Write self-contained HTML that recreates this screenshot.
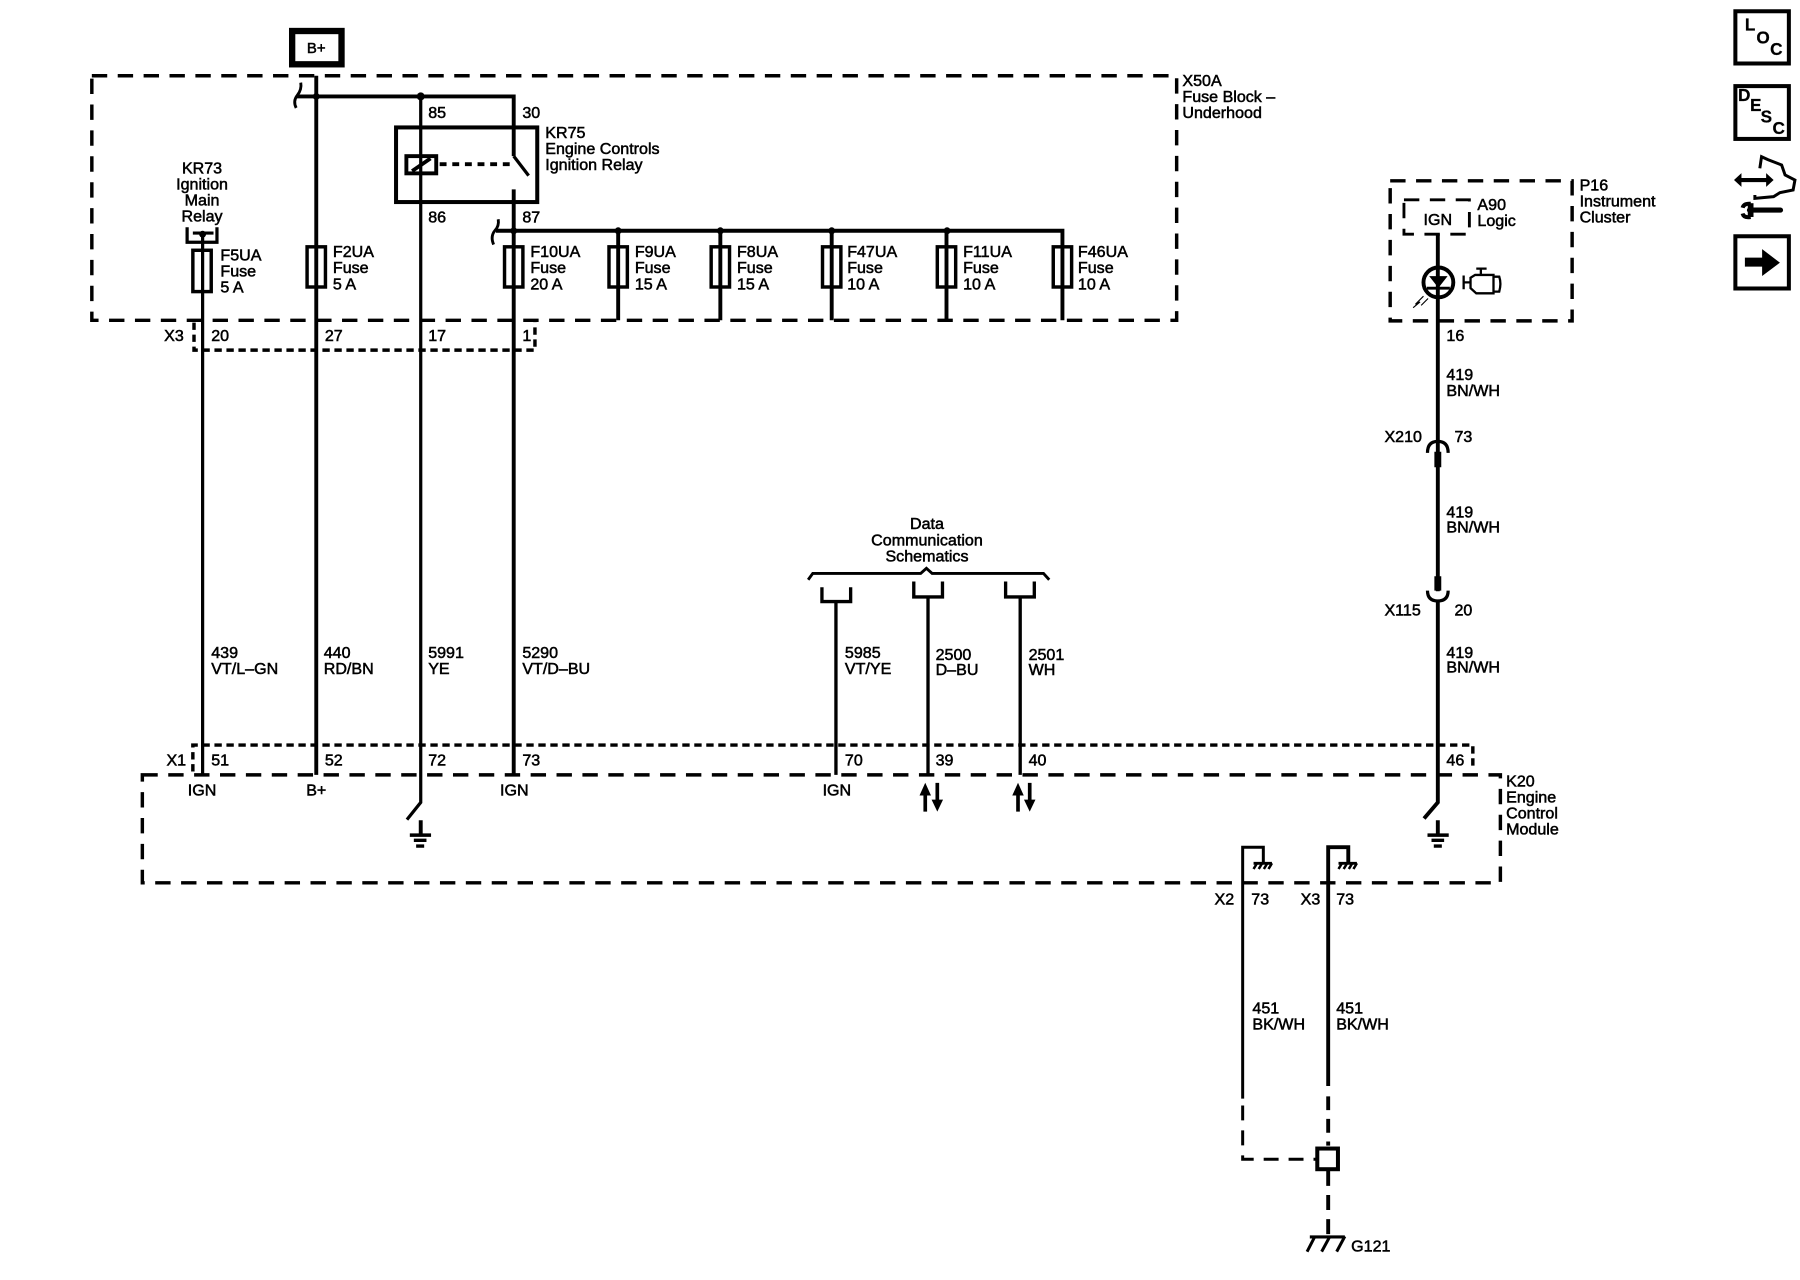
<!DOCTYPE html>
<html><head><meta charset="utf-8"><title>Engine Controls Ignition Relay Schematic</title>
<style>
html,body{margin:0;padding:0;background:#fff}
svg{display:block}
text{font-family:"Liberation Sans",sans-serif;font-size:14px;fill:#000;stroke:#000;stroke-width:.45}
.m{text-anchor:middle}
.b{font-weight:bold;font-size:15px;stroke-width:.2}
</style></head><body>
<svg width="1800" height="1280" viewBox="0 0 1568 1115" xmlns="http://www.w3.org/2000/svg">
<rect width="1568" height="1115" fill="#fff"/>
<g fill="none" stroke="#000" stroke-width="3.400">
<!-- dashed boxes -->
<g stroke-dasharray="13.400 9.150" stroke-width="3">
<rect x="80" y="66" width="945" height="213"/>
<rect x="124" y="675" width="1183" height="94"/>
<rect x="1211" y="157.500" width="158.500" height="122"/>
</g>
<rect x="1223" y="174" width="57" height="30" stroke-dasharray="13.400 9.150" stroke-width="2.500"/>
<path d="M169 281V305H466V281" stroke-dasharray="6.400 4.050" stroke-width="3"/>
<path d="M168 672V649H1283V670" stroke-dasharray="6.400 4.050" stroke-width="3"/>
<!-- B+ -->
<rect x="254.500" y="27" width="43" height="29" stroke-width="5.500"/>
<!-- wires -->
<path d="M275.500 66V675"/>
<path d="M258 84H447.500V136"/>
<path d="M366.500 84V699L354.500 714" stroke-width="2.800"/>
<path d="M447.500 136L460.500 153" stroke-width="2.800"/>
<path d="M447.500 165V675"/>
<path d="M432 201H925.500V279"/>
<path d="M538.500 201V279M627.500 201V279M724.500 201V279M824.500 201V279"/>
<path d="M176.500 204V675" stroke-width="2.800"/>
<path d="M262 72Q263 78 259 83Q255 88 258 94" stroke-width="2.500"/>
<path d="M434 191Q435 197 431 201Q427 206 430 213" stroke-width="2.500"/>
<!-- relay -->
<rect x="345" y="111" width="123" height="65" stroke-width="3.500"/>
<rect x="354" y="136" width="26" height="15"/>
<path d="M359 149L375 138"/>
<path d="M383 143H447" stroke-dasharray="6 5"/>
<!-- KR73 bracket -->
<path d="M163 198V211H189V198M168 203H186" stroke-width="2.800"/>
<!-- fuses -->
<g stroke-width="3">
<rect x="168" y="218" width="16" height="36"/>
<rect x="267.500" y="215" width="16" height="35"/>
<rect x="439.500" y="215" width="16" height="35"/>
<rect x="530.500" y="215" width="16" height="35"/>
<rect x="619.500" y="215" width="16" height="35"/>
<rect x="716.500" y="215" width="16" height="35"/>
<rect x="816.500" y="215" width="16" height="35"/>
<rect x="917.500" y="215" width="16" height="35"/>
</g>
<!-- data comm -->
<path d="M704 505L708 499.500H802L807 495L812 499.500H909L914 505" stroke-width="2.500"/>
<g stroke-width="2.900">
<path d="M716 511.500V524H741V511.500M728.200 524V675"/>
<path d="M796 506.500V520H821V506.500M808.400 520V675"/>
<path d="M876 506.500V520H901V506.500M888.700 520V675"/>
</g>
<!-- right wire -->
<path d="M1252.500 204V395"/>
<path d="M1252.500 395V515"/>
<path d="M1252.500 523V699L1240.500 713"/>
<path d="M1243.500 394.500Q1243.500 384.500 1252.500 384.500Q1261.500 384.500 1261.500 394.500" stroke-width="2.800"/>
<path d="M1243.500 514.500Q1243.500 523.500 1252.500 523.500Q1261.500 523.500 1261.500 514.500" stroke-width="2.800"/>
<path d="M1252.500 393.500V407M1252.500 502V514.500" stroke-width="6"/>
<circle cx="1253" cy="246" r="13"/>
<path d="M1243 251H1263" stroke-width="2.500"/>
<path d="M1246 241H1260L1253 250Z" fill="#000" stroke-width="1"/>
<path d="M1240 258L1233 265L1237 263L1231 268M1244 260L1238 266" stroke-width="1"/>
<!-- engine icon -->
<path d="M1275 240V252M1275 246H1281V242L1285 239.500H1301V255.500H1286L1281 251V246M1301 241H1306Q1308 247 1306 254H1301M1286 234H1295M1290 234V239.500" stroke-width="2"/>
<!-- grounds -->
<path d="M366.500 714.500V727M1252.500 714.500V727"/>
<g stroke-width="3">
<path d="M357 727.500H375.500M1243.500 727.500H1262"/>
<path d="M360.500 732H371.500M1247 732H1258M362.500 737H369.500M1249 737H1256"/>
</g>
<!-- module grounds -->
<path d="M1082.500 957V738H1100.500V751" stroke-width="2.600"/>
<path d="M1157 946V738H1174.500V751"/>
<path d="M1092 752H1108M1166 752H1182" stroke-width="2.500"/>
<path d="M1095 752L1092 757M1099.500 752L1096.500 757M1104 752L1101 757M1108 752L1105 757M1169 752L1166 757M1173.500 752L1170.500 757M1178 752L1175 757M1182 752L1179 757" stroke-width="2.200"/>
<!-- ground splice -->
<path d="M1082.500 963V1009.800H1146" stroke-dasharray="13 8.700" stroke-width="2.600"/>
<path d="M1157 955V998" stroke-dasharray="12 7.700"/>
<path d="M1157 1020V1077" stroke-dasharray="13 8"/>
<rect x="1147.500" y="1000.500" width="18" height="18" stroke-width="3.500"/>
<path d="M1141 1077.500H1171.500" stroke-width="2.800"/>
<path d="M1145.500 1077L1138.600 1090.300M1158.500 1077L1151.300 1090.300M1171.500 1077L1164.400 1090.300" stroke-width="2.600"/>
<!-- data arrows -->
<path d="M806 707V690M816.500 682V699M886.800 707V690M897 682V699" stroke-width="3.200"/>
<!-- side icon boxes -->
<rect x="1511.700" y="9.800" width="46.600" height="45.500" stroke-width="3.500"/>
<rect x="1511.700" y="75" width="46.600" height="46" stroke-width="3.500"/>
<rect x="1511.700" y="205.800" width="46.600" height="45.500" stroke-width="3.500"/>
<!-- tools icon -->
<path d="M1533 146.600L1534.500 136.500L1540 139L1552 143.700L1555 152.400L1563.600 156.800L1562 165.500L1550.500 167.800L1545 171.300L1528.700 172.800V169.900" stroke-width="2.600"/>
<path d="M1515 156.800H1541" stroke-width="3.600"/>
<path d="M1524 183H1551" stroke-width="4.500" stroke-linecap="round"/>
<path d="M1525 177.500Q1519 177 1518 181M1518 186Q1519 190 1525 189" stroke-width="3.500"/>
<path d="M1525 177V189" stroke-width="5"/>
</g>
<!-- arrows / dots -->
<g fill="#000">
<circle cx="275.500" cy="84" r="3"/><circle cx="366.500" cy="84" r="3.500"/>
<circle cx="447.500" cy="201" r="3"/><circle cx="538.500" cy="201" r="3"/><circle cx="627.500" cy="201" r="3"/><circle cx="724.500" cy="201" r="3"/><circle cx="825" cy="201" r="3"/>
<circle cx="176.500" cy="204" r="3"/>
<path d="M801 693L806 681.800L811 693ZM811.500 696.500L816.500 707L821.500 696.500ZM881.800 693L886.800 681.800L891.800 693ZM892 696.500L897 707L902 696.500Z"/>
<path d="M1510.500 156.800L1517 150.800V162.800ZM1545 156.800L1538.500 150.800V162.800Z"/>
<path d="M1520 224.400H1535V217L1550.500 228.800L1535 240.400V232.300H1520Z"/>
</g>
<text class="b" x="1520" y="26.700">L</text><text class="b" x="1530" y="37.700">O</text><text class="b" x="1542" y="48">C</text>
<text class="b" x="1514" y="88">D</text><text class="b" x="1524.400" y="96.700">E</text><text class="b" x="1533.700" y="106.900">S</text><text class="b" x="1544" y="116.700">C</text>
<g transform="translate(0,10)">
<text class="m" x="275.500" y="36" style="font-size:13px">B+</text>
<text class="m" x="176" y="141">KR73</text>
<text class="m" x="176" y="155">Ignition</text>
<text class="m" x="176" y="169">Main</text>
<text class="m" x="176" y="183">Relay</text>
<text x="192" y="217">F5UA</text><text x="192" y="231">Fuse</text><text x="192" y="245">5 A</text>
<text x="290" y="214">F2UA</text><text x="290" y="228">Fuse</text><text x="290" y="242">5 A</text>
<text x="462" y="214">F10UA</text><text x="462" y="228">Fuse</text><text x="462" y="242">20 A</text>
<text x="553" y="214">F9UA</text><text x="553" y="228">Fuse</text><text x="553" y="242">15 A</text>
<text x="642" y="214">F8UA</text><text x="642" y="228">Fuse</text><text x="642" y="242">15 A</text>
<text x="738" y="214">F47UA</text><text x="738" y="228">Fuse</text><text x="738" y="242">10 A</text>
<text x="839" y="214">F11UA</text><text x="839" y="228">Fuse</text><text x="839" y="242">10 A</text>
<text x="939" y="214">F46UA</text><text x="939" y="228">Fuse</text><text x="939" y="242">10 A</text>
<text x="373" y="93">85</text><text x="455" y="93">30</text><text x="373" y="184">86</text><text x="455" y="184">87</text>
<text x="475" y="110">KR75</text><text x="475" y="124">Engine Controls</text><text x="475" y="138">Ignition Relay</text>
<text x="1030" y="65">X50A</text><text x="1030" y="79">Fuse Block –</text><text x="1030" y="93">Underhood</text>
<text x="143" y="287">X3</text><text x="184" y="287">20</text><text x="283" y="287">27</text><text x="373" y="287">17</text><text x="455" y="287">1</text>
<text x="184" y="563">439</text><text x="184" y="577">VT/L–GN</text>
<text x="282" y="563">440</text><text x="282" y="577">RD/BN</text>
<text x="373" y="563">5991</text><text x="373" y="577">YE</text>
<text x="455" y="563">5290</text><text x="455" y="577">VT/D–BU</text>
<text class="m" x="807.500" y="451">Data</text><text class="m" x="807.500" y="465">Communication</text><text class="m" x="807.500" y="479">Schematics</text>
<text x="736" y="563">5985</text><text x="736" y="577">VT/YE</text>
<text x="815" y="565">2500</text><text x="815" y="578">D–BU</text>
<text x="896" y="565">2501</text><text x="896" y="578">WH</text>
<text x="145" y="657">X1</text><text x="184" y="657">51</text><text x="283" y="657">52</text><text x="373" y="657">72</text><text x="455" y="657">73</text><text x="736" y="657">70</text><text x="815" y="657">39</text><text x="896" y="657">40</text><text x="1260" y="657">46</text>
<text class="m" x="176" y="683">IGN</text><text class="m" x="275.500" y="683">B+</text><text class="m" x="448" y="683">IGN</text><text class="m" x="729" y="683">IGN</text>
<text x="1312" y="675">K20</text><text x="1312" y="689">Engine</text><text x="1312" y="703">Control</text><text x="1312" y="717">Module</text>
<text class="m" x="1252.500" y="186">IGN</text>
<text x="1287" y="173">A90</text><text x="1287" y="187">Logic</text>
<text x="1376" y="156">P16</text><text x="1376" y="170">Instrument</text><text x="1376" y="184">Cluster</text>
<text x="1260" y="287">16</text>
<text x="1260" y="321">419</text><text x="1260" y="335">BN/WH</text>
<text x="1206" y="375">X210</text><text x="1267" y="375">73</text>
<text x="1260" y="441">419</text><text x="1260" y="454">BN/WH</text>
<text x="1206" y="526">X115</text><text x="1267" y="526">20</text>
<text x="1260" y="563">419</text><text x="1260" y="576">BN/WH</text>
<text x="1058" y="778">X2</text><text x="1090" y="778">73</text><text x="1133" y="778">X3</text><text x="1164" y="778">73</text>
<text x="1091" y="873">451</text><text x="1091" y="887">BK/WH</text>
<text x="1164" y="873">451</text><text x="1164" y="887">BK/WH</text>
<text x="1177" y="1080">G121</text>
</g>
</svg>
</body></html>
